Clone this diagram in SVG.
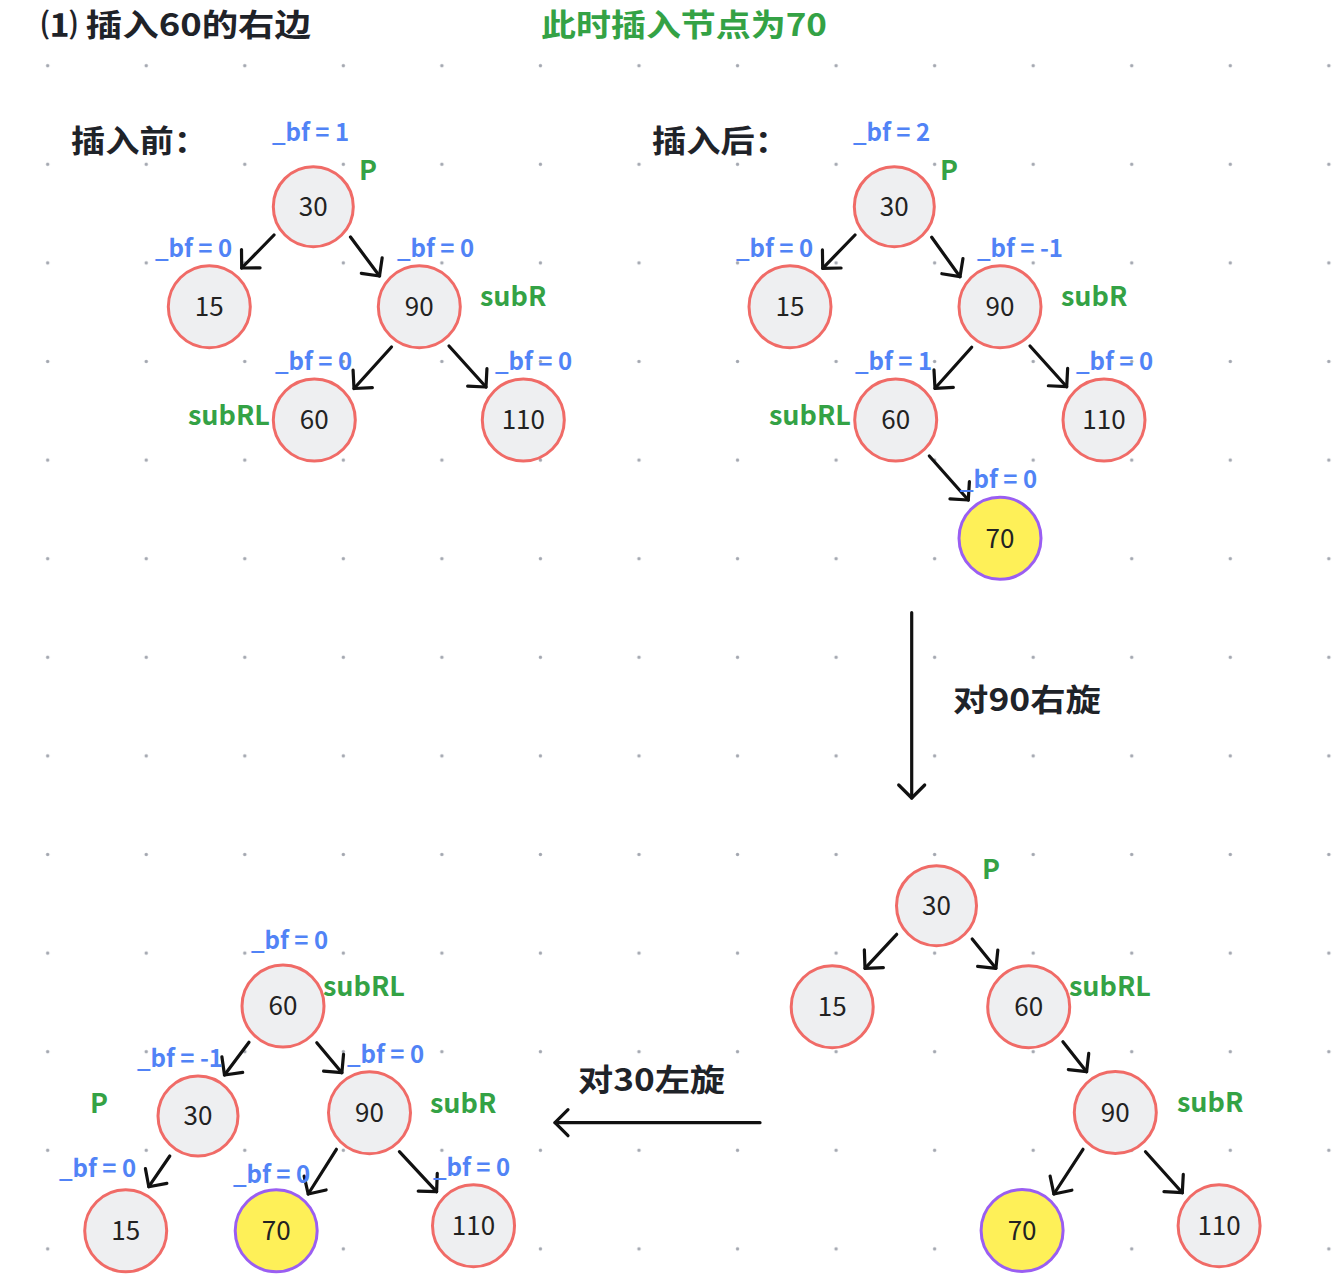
<svg xmlns="http://www.w3.org/2000/svg" width="1339" height="1286" viewBox="0 0 1339 1286">
<defs>
<pattern id="dots" patternUnits="userSpaceOnUse" x="-1.57" y="16.4" width="98.55" height="98.6">
<circle cx="49.27" cy="49.3" r="1.7" fill="#a3a7b0"/>
</pattern>
<marker id="arr" markerUnits="userSpaceOnUse" viewBox="-16 -16 20 32" refX="0" refY="0" markerWidth="20" markerHeight="32" orient="auto" overflow="visible">
<path d="M-13,-13 L0,0 L-13,13" fill="none" stroke="#111" stroke-width="3.2" stroke-linecap="round" stroke-linejoin="round"/>
</marker>
<style>
.n circle{fill:#eeeff1;stroke:#f06b67;stroke-width:3}
.n.new circle{fill:#fef058;stroke:#9a5ef2}
.n text{font-family:"Noto Sans CJK SC","Noto Sans",sans-serif;font-size:26px;fill:#222;text-anchor:middle}
.bf{font-family:"Noto Sans CJK SC","Noto Sans",sans-serif;font-size:24px;font-weight:700;fill:#5183f6}
.g{font-family:"Noto Sans CJK SC","Noto Sans",sans-serif;font-size:27px;font-weight:700;fill:#34a245}
.h{font-family:"Noto Sans CJK SC","Noto Sans",sans-serif;font-size:31px;font-weight:700;fill:#1f2329}
.e path{fill:none;stroke:#111;stroke-width:3.2;stroke-linecap:round;marker-end:url(#arr)}
</style>
</defs>
<rect x="0" y="0" width="1339" height="1286" fill="#ffffff"/>
<rect x="0" y="0" width="1339" height="1286" fill="url(#dots)"/>

<g id="titles">
<text class="h" x="41" y="36" textLength="270" lengthAdjust="spacingAndGlyphs">⑴ 插入60的右边</text>
<text class="h" x="541" y="36" style="fill:#34a245" textLength="286" lengthAdjust="spacingAndGlyphs">此时插入节点为70</text>
<text class="h" x="71" y="152" textLength="137" lengthAdjust="spacingAndGlyphs">插入前：</text>
<text class="h" x="652" y="152" textLength="137" lengthAdjust="spacingAndGlyphs">插入后：</text>
<text class="h" x="953" y="711" textLength="148" lengthAdjust="spacingAndGlyphs">对90右旋</text>
<text class="h" x="578" y="1091" textLength="147" lengthAdjust="spacingAndGlyphs">对30左旋</text>
</g>

<g id="connectors" class="e">
<path d="M274,235 L241.7,268"/>
<path d="M350.5,237 L379.5,276"/>
<path d="M391.5,347 L354,388.5"/>
<path d="M449,346 L486,387"/>
<path d="M855,235 L822.7,268.3"/>
<path d="M931.7,237.3 L960,276.7"/>
<path d="M971.7,347.3 L935,388.3"/>
<path d="M1030,346 L1066.7,386.7"/>
<path d="M929.3,456 L968.3,500"/>
<path d="M911.7,612.7 L911.7,798"/>
<path d="M896.7,934.3 L865,968.3"/>
<path d="M972.2,939 L995.9,968.3"/>
<path d="M1062.9,1041.7 L1086.6,1071.7"/>
<path d="M1083,1149.3 L1053.9,1194"/>
<path d="M1145.5,1151.7 L1182.3,1192.7"/>
<path d="M760,1122.7 L555,1122.7"/>
<path d="M249,1042.3 L224.5,1075"/>
<path d="M316.8,1042.7 L341.9,1072.7"/>
<path d="M169.8,1156 L148.8,1186.7"/>
<path d="M336.4,1149.3 L308.2,1194"/>
<path d="M399.4,1151.7 L436.6,1191.7"/>
</g>

<!-- before insertion -->
<g id="tl-30" class="n"><circle cx="313.3" cy="206.7" r="40"/><text x="313.3" y="216">30</text></g>
<g id="tl-15" class="n"><circle cx="209.3" cy="306.7" r="41"/><text x="209.3" y="316">15</text></g>
<g id="tl-90" class="n"><circle cx="419.3" cy="306.7" r="41"/><text x="419.3" y="316">90</text></g>
<g id="tl-60" class="n"><circle cx="314.3" cy="420" r="41"/><text x="314.3" y="429.3">60</text></g>
<g id="tl-110" class="n"><circle cx="523.3" cy="420" r="41"/><text x="523.3" y="429.3">110</text></g>

<!-- after insertion -->
<g id="tr-30" class="n"><circle cx="894.3" cy="206.7" r="40"/><text x="894.3" y="216">30</text></g>
<g id="tr-15" class="n"><circle cx="790" cy="306.7" r="41"/><text x="790" y="316">15</text></g>
<g id="tr-90" class="n"><circle cx="1000" cy="306.7" r="41"/><text x="1000" y="316">90</text></g>
<g id="tr-60" class="n"><circle cx="895.7" cy="420" r="41"/><text x="895.7" y="429.3">60</text></g>
<g id="tr-110" class="n"><circle cx="1104" cy="420" r="41"/><text x="1104" y="429.3">110</text></g>
<g id="tr-70" class="n new"><circle cx="1000" cy="538.3" r="41"/><text x="1000" y="547.6">70</text></g>

<!-- after right rotation -->
<g id="br-30" class="n"><circle cx="936.5" cy="905.7" r="40"/><text x="936.5" y="915">30</text></g>
<g id="br-15" class="n"><circle cx="832.2" cy="1006.7" r="41"/><text x="832.2" y="1016">15</text></g>
<g id="br-60" class="n"><circle cx="1028.7" cy="1006.7" r="41"/><text x="1028.7" y="1016">60</text></g>
<g id="br-90" class="n"><circle cx="1115.3" cy="1112.5" r="41"/><text x="1115.3" y="1121.8">90</text></g>
<g id="br-70" class="n new"><circle cx="1022.1" cy="1230.5" r="41"/><text x="1022.1" y="1239.8">70</text></g>
<g id="br-110" class="n"><circle cx="1219.1" cy="1225.7" r="41"/><text x="1219.1" y="1235">110</text></g>

<!-- after left rotation -->
<g id="bl-60" class="n"><circle cx="283" cy="1006" r="41"/><text x="283" y="1015.3">60</text></g>
<g id="bl-30" class="n"><circle cx="198" cy="1116" r="40"/><text x="198" y="1125.3">30</text></g>
<g id="bl-90" class="n"><circle cx="369.5" cy="1112.7" r="41"/><text x="369.5" y="1122">90</text></g>
<g id="bl-15" class="n"><circle cx="125.7" cy="1230.7" r="41"/><text x="125.7" y="1240">15</text></g>
<g id="bl-70" class="n new"><circle cx="276.2" cy="1230.7" r="41"/><text x="276.2" y="1240">70</text></g>
<g id="bl-110" class="n"><circle cx="473.5" cy="1225.7" r="41"/><text x="473.5" y="1235">110</text></g>

<g id="labels">
<text class="bf" x="272" y="141">_bf = 1</text>
<text class="g" x="359" y="180">P</text>
<text class="bf" x="155" y="256.5">_bf = 0</text>
<text class="bf" x="397" y="256.5">_bf = 0</text>
<text class="g" x="480" y="306">subR</text>
<text class="bf" x="275" y="369.5">_bf = 0</text>
<text class="bf" x="495" y="369.5">_bf = 0</text>
<text class="g" x="188" y="425">subRL</text>

<text class="bf" x="853" y="141">_bf = 2</text>
<text class="g" x="940" y="180">P</text>
<text class="bf" x="736" y="256.5">_bf = 0</text>
<text class="bf" x="977" y="256.5">_bf = -1</text>
<text class="g" x="1061" y="306">subR</text>
<text class="bf" x="855" y="369.5">_bf = 1</text>
<text class="bf" x="1076" y="369.5">_bf = 0</text>
<text class="g" x="769" y="425">subRL</text>
<text class="bf" x="960" y="488">_bf = 0</text>

<text class="g" x="982" y="879">P</text>
<text class="g" x="1069" y="995.5">subRL</text>
<text class="g" x="1177" y="1112">subR</text>

<text class="bf" x="251" y="949">_bf = 0</text>
<text class="g" x="323" y="996">subRL</text>
<text class="bf" x="137" y="1066.5">_bf = -1</text>
<text class="bf" x="347" y="1063">_bf = 0</text>
<text class="g" x="90" y="1112.5">P</text>
<text class="g" x="430" y="1112.5">subR</text>
<text class="bf" x="59" y="1177">_bf = 0</text>
<text class="bf" x="233" y="1183">_bf = 0</text>
<text class="bf" x="433" y="1176">_bf = 0</text>
</g>
</svg>
